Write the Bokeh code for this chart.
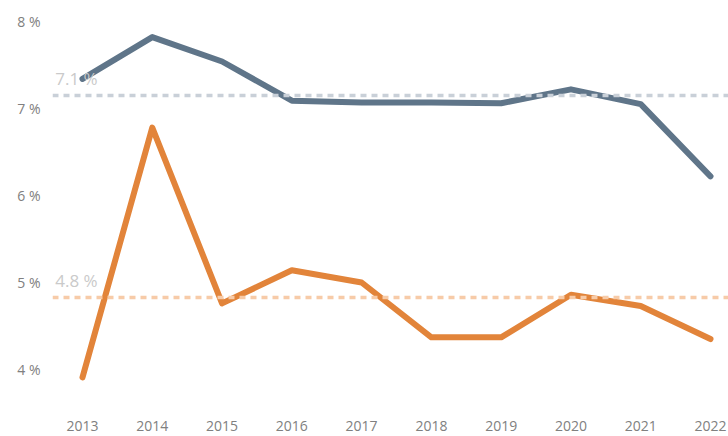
import numpy as np
from bokeh.plotting import figure
from bokeh.models import Span, Range1d, FixedTicker, Label
from bokeh.embed import file_html
from bokeh.resources import INLINE

years = [2013, 2014, 2015, 2016, 2017, 2018, 2019, 2020, 2021, 2022]
series_blue = [7.34, 7.82, 7.54, 7.09, 7.07, 7.07, 7.06, 7.22, 7.05, 6.22]
series_orange = [3.91, 6.78, 4.76, 5.14, 5.00, 4.37, 4.37, 4.86, 4.73, 4.35]
y_ticks = [4, 5, 6, 7, 8]

BLUE = "#5f7589"
ORANGE = "#e2843a"
BLUE_AVG = "#c9d0d8"
ORANGE_AVG = "#f7cba8"
FONT = "Open Sans"

p = figure(width=728, height=436, output_backend="svg", toolbar_location=None,
           x_range=Range1d(2012.57, 2022.258), y_range=Range1d(3.552, 8.241),
           min_border_left=52, min_border_right=0, min_border_top=0, min_border_bottom=28)
p.outline_line_color = None
p.xgrid.visible = False
p.ygrid.visible = False
p.background_fill_color = "white"
p.border_fill_color = "white"

for ax in (p.xaxis[0], p.yaxis[0]):
    ax.axis_line_color = None
    ax.major_tick_line_color = None
    ax.minor_tick_line_color = None
    ax.major_tick_out = 0
    ax.major_tick_in = 0
    ax.major_label_text_font = FONT
    ax.major_label_text_font_size = "14px"
    ax.major_label_text_color = "#808080"

p.xaxis.ticker = FixedTicker(ticks=years)
p.xaxis.major_label_standoff = 12
p.yaxis.ticker = FixedTicker(ticks=y_ticks)
p.yaxis.major_label_overrides = {t: f"{t} %" for t in y_ticks}
p.yaxis.major_label_standoff = 12

avg_blue = float(np.mean(series_blue))
avg_orange = float(np.mean(series_orange))

p.add_layout(Span(location=avg_blue, dimension="width", line_color=BLUE_AVG,
                  line_width=3.5, line_dash="6 5"))
p.add_layout(Span(location=avg_orange, dimension="width", line_color=ORANGE_AVG,
                  line_width=3.5, line_dash="6 5"))

p.add_layout(Label(x=2012.61, y=avg_blue, y_offset=6, text=f"{avg_blue:.1f} %",
                   text_font=FONT, text_font_size="17px", text_color="#cacaca"))
p.add_layout(Label(x=2012.61, y=avg_orange, y_offset=6, text=f"{avg_orange:.1f} %",
                   text_font=FONT, text_font_size="17px", text_color="#cacaca"))

p.line(years, series_blue, line_color=BLUE, line_width=6, line_cap="round", line_join="round")
p.line(years, series_orange, line_color=ORANGE, line_width=6, line_cap="round", line_join="round")

open("out.html", "w").write(file_html(p, INLINE))
